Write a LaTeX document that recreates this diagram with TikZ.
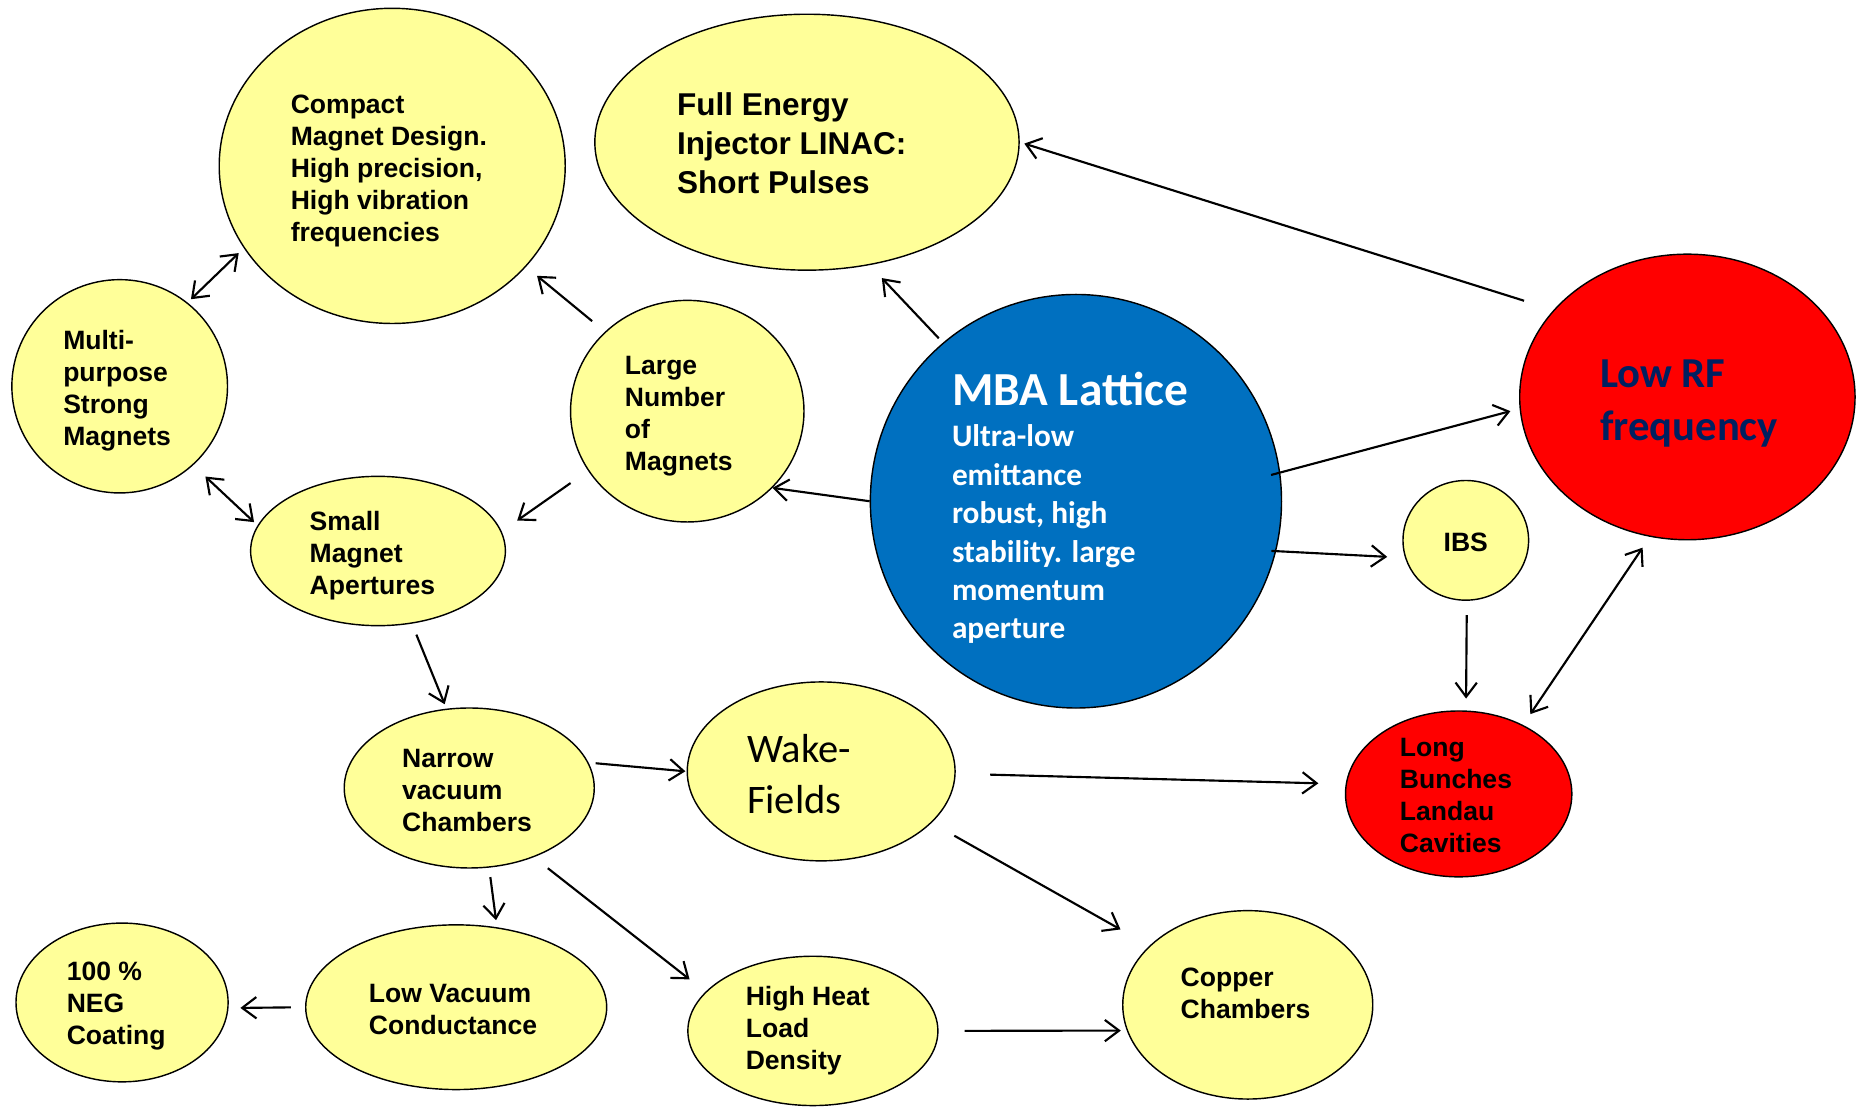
\documentclass[tikz,border=0pt]{standalone}
\usepackage{fontspec}
\setmainfont{Liberation Sans}
\newfontfamily\calibri{Carlito}
\usetikzlibrary{shapes.geometric,arrows.meta}
\definecolor{yel}{HTML}{FFFF99}
\definecolor{mbablue}{HTML}{0070C0}
\definecolor{rfred}{HTML}{FF0000}
\definecolor{navy}{HTML}{002060}
\begin{document}
\begin{tikzpicture}[x=0.5pt,y=-0.5pt,
  bub/.style={ellipse, draw=black, line width=0.6pt, inner sep=0pt},
  yb/.style={bub, fill=yel},
  txt/.style={anchor=west, align=left, inner sep=0pt, font=\fontsize{11.2}{13.5}\selectfont\bfseries},
  arr/.style={-{Straight Barb[length=6pt,width=9pt]}, line width=0.9pt},
  darr/.style={{Straight Barb[length=6pt,width=9pt]}-{Straight Barb[length=6pt,width=9pt]}, line width=0.9pt}]
\useasboundingbox (0,0) rectangle (1568,935);
\fill[white] (0,0) rectangle (1568,935);

% bubbles
\node[yb, minimum width=146pt, minimum height=133pt] (compact) at (331,140) {};
\node[yb, minimum width=179pt, minimum height=108pt] (full) at (681,120) {};
\node[yb, minimum width=91pt, minimum height=90pt] (multi) at (101,326) {};
\node[yb, minimum width=98.5pt, minimum height=93.5pt] (large) at (580,347) {};
\node[bub, fill=mbablue, minimum width=173.5pt, minimum height=174.5pt] (mba) at (908,423) {};
\node[bub, fill=rfred, minimum width=141.5pt, minimum height=120.5pt] (lowrf) at (1424,335) {};
\node[yb, minimum width=53pt, minimum height=50.5pt] (ibs) at (1237,456) {};
\node[yb, minimum width=107.5pt, minimum height=63pt] (small) at (319,465) {};
\node[yb, minimum width=105.5pt, minimum height=67.5pt] (narrow) at (396,665) {};
\node[yb, minimum width=113pt, minimum height=75.5pt] (wake) at (693,651) {};
\node[bub, fill=rfred, minimum width=95.5pt, minimum height=70pt] (long) at (1231,670) {};
\node[yb, minimum width=89.5pt, minimum height=67pt] (neg) at (103,846) {};
\node[yb, minimum width=127pt, minimum height=69.5pt] (lowvac) at (385,850) {};
\node[yb, minimum width=105.5pt, minimum height=63pt] (heat) at (686,870) {};
\node[yb, minimum width=105.5pt, minimum height=79.5pt] (copper) at (1053,848) {};

% connectors
\draw[darr, shorten <=2pt, shorten >=3pt] (multi.51) -- (compact.209);
\draw[arr, shorten <=7pt, shorten >=6pt] (large.136) -- (compact.323);
\draw[arr, shorten <=2.5pt, shorten >=7.5pt] (mba.130) -- (full.297);
\draw[arr, shorten <=13pt, shorten >=2pt] (lowrf.147) -- (full.0);
\draw[arr, shorten <=-4pt, shorten >=4pt] (mba.8) -- (lowrf.184);
\draw[arr, shorten <=-2pt, shorten >=7.5pt] (mba.346) -- (ibs.196);
\draw[arr] (mba.180) -- (large.318);
\draw[arr, shorten <=9pt, shorten >=8pt] (large.211) -- (small.9);
\draw[darr, shorten <=7pt, shorten >=2pt] (multi.313) -- (small.168);
\draw[arr, shorten <=5pt, shorten >=2pt] (small.295) -- (narrow.106);
\draw[arr, shorten <=6pt, shorten >=5pt] (ibs.271) -- (long.85);
\draw[darr, shorten <=5.5pt, shorten >=5.5pt] (long.47) -- (lowrf.255);
\draw[arr, shorten <=3pt, shorten >=0.5pt] (narrow.12) -- (wake.180);
\draw[arr, shorten <=14.5pt, shorten >=11.5pt] (wake.359) -- (long.175.6);
\draw[arr, shorten <=4pt, shorten >=3pt] (narrow.284) -- (lowvac.63);
\draw[arr, shorten <=7.5pt, shorten >=8.5pt] (narrow.313) -- (heat.160);
\draw[arr, shorten <=11pt, shorten >=14pt] (wake.335) -- (copper.149);
\draw[arr, shorten <=6pt, shorten >=5pt] (lowvac.180) -- (neg.357);
\draw[arr, shorten <=11pt, shorten >=2.5pt] (heat.0) -- (copper.192);

% texts
\node[txt] (t-compact) at (245,144) {Compact\\Magnet Design.\\High precision,\\High vibration\\frequencies};
\node[txt, font=\fontsize{13.3}{16.5}\selectfont\bfseries] (t-full) at (571,121) {Full Energy\\Injector LINAC:\\Short Pulses};
\node[txt] (t-multi) at (53,330) {Multi-\\purpose\\Strong\\Magnets};
\node[txt] (t-large) at (527,351) {Large\\Number\\of\\Magnets};
\node[txt, text=white, font=\calibri\bfseries\fontsize{20}{24}\selectfont] (t-mbatitle) at (803,328) {MBA Lattice};
\node[txt, text=white, font=\calibri\bfseries\fontsize{13.2}{16.2}\selectfont] (t-mba) at (803,451) {Ultra-low\\emittance\\robust, high\\stability. large\\momentum\\aperture};
\node[txt, text=navy, font=\calibri\bfseries\fontsize{18}{22}\selectfont] (t-lowrf) at (1350,340.5) {Low RF\\frequency};
\node[txt, anchor=center] (t-ibs) at (1237,458) {IBS};
\node[txt] (t-small) at (261,469) {Small\\Magnet\\Apertures};
\node[txt] (t-narrow) at (339,667) {Narrow\\vacuum\\Chambers};
\node[txt, font=\calibri\fontsize{17.1}{21.5}\selectfont] (t-wake) at (630,653) {Wake-\\Fields};
\node[txt] (t-long) at (1181,671) {Long\\Bunches\\Landau\\Cavities};
\node[txt] (t-neg) at (56,849) {100 \%\\NEG\\Coating};
\node[txt] (t-lowvac) at (311,852) {Low Vacuum\\Conductance};
\node[txt] (t-heat) at (629,870) {High Heat\\Load\\Density};
\node[txt] (t-copper) at (996,838) {Copper\\Chambers};
\end{tikzpicture}
\end{document}
